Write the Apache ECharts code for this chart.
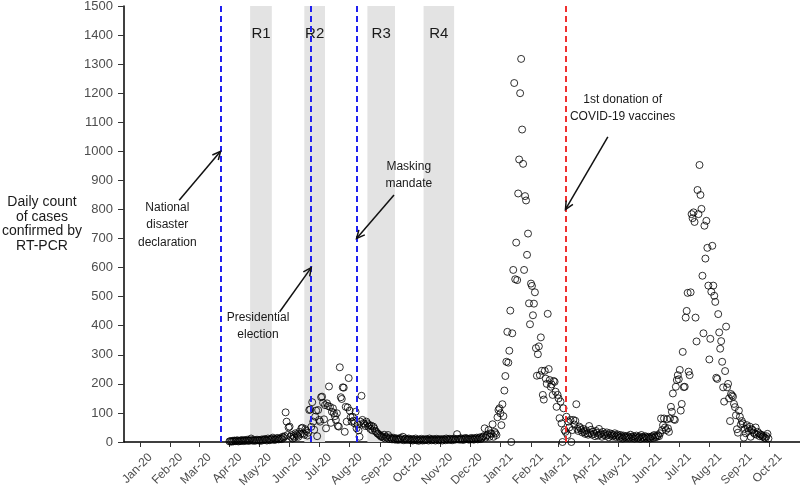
<!DOCTYPE html>
<html>
<head>
<meta charset="utf-8">
<script src="https://cdn.jsdelivr.net/npm/echarts@6/dist/echarts.min.js"></script>
<style>
html,body{margin:0;padding:0;background:#fff;}
#chart{width:800px;height:491px;}
</style>
</head>
<body>
<div id="chart"></div>
<script>
// ---- axis definition ----
const axisStart = '2019-12-16';
const axisEnd = '2021-11-01';
const monthNames = ['Jan','Feb','Mar','Apr','May','Jun','Jul','Aug','Sep','Oct','Nov','Dec'];
const yMin = 0, yMax = 1500, yInterval = 100;
const yAxisTitle = 'Daily count\nof cases\nconfirmed by\nRT-PCR';

// ---- daily confirmed cases, one array per month ----
const apr2020 = [2,3,1,4,2,5,3,4,6,2,3,5,4,7,3,5,6,4,8,5,4,6,12,5,7,4,6,5,8,6];
const may2020 = [5,7,4,9,6,8,10,7,5,12,8,6,9,11,15,7,10,8,12,14,9,11,13,10,18,15,20,102,70,24,50];
const jun2020 = [53,18,24,12,20,15,30,26,22,18,35,28,47,49,30,25,44,38,22,32,110,112,52,137,70,42,87,108,20,110];
const jul2020 = [76,70,154,156,135,78,127,47,133,124,191,121,66,104,116,99,89,76,99,55,53,257,154,148,188,187,35,121,70,119,220];
const aug2020 = [108,85,70,87,73,64,104,47,60,40,18,70,159,76,65,62,55,70,64,53,58,45,56,40,53,47,38,35,30,28,25];
const sep2020 = [22,18,20,15,25,12,18,14,24,10,16,12,9,15,11,8,13,10,7,12,9,14,8,18,6,10,12,7,9,12];
const oct2020 = [8,6,10,5,9,7,12,6,8,4,9,7,11,5,8,6,10,7,9,5,12,8,6,10,7,9,5,11,8,6,10];
const nov2020 = [7,9,5,10,8,6,12,9,7,11,8,10,6,9,12,8,10,27,9,11,8,13,10,7,12,9,14,11,10,8];
const dec2020 = [12,9,14,10,8,13,11,15,9,12,16,10,14,18,20,47,15,22,25,41,18,30,28,61,18,35,30,24,85,110,116];
const jan2021 = [99,58,130,89,177,227,276,379,273,314,452,0,374,592,1235,560,686,557,855,972,1200,1318,1075,957,592,846,831,644,717,477,405];
const feb2021 = [545,537,436,476,515,323,228,302,329,230,360,245,162,146,245,218,200,441,251,213,190,198,162,210,207,173,121,162];
const mar2021 = [150,82,139,64,0,116,41,35,87,24,70,50,76,0,41,76,60,73,130,45,38,53,48,41,33,45,35,28,40,30,25];
const apr2021 = [55,30,42,25,35,28,20,38,32,22,45,26,30,18,35,24,28,21,33,25,16,30,22,27,19,24,30,17,22,26];
const may2021 = [20,15,24,18,12,22,16,19,14,21,17,13,25,18,15,20,12,17,22,14,16,19,11,24,15,18,13,20,16,12,18];
const jun2021 = [15,12,18,20,14,24,16,22,18,24,20,30,81,41,58,81,50,41,78,47,35,81,121,104,167,78,76,190,213,230];
const jul2021 = [216,248,108,131,310,189,190,428,451,513,242,230,515,784,770,790,757,428,346,867,784,953,850,802,572,374,744,631,761,668,538];
const aug2021 = [284,355,517,675,538,503,482,221,217,440,377,321,347,276,188,139,244,397,188,200,150,72,165,160,156,131,120,92,44,32,108];
const sep2021 = [87,60,72,64,15,45,30,58,47,38,53,18,44,41,32,28,50,25,35,30,20,26,24,18,21,15,13,20,28,12];

const monthBlocks = [
  ['2020-04-01', apr2020], ['2020-05-01', may2020], ['2020-06-01', jun2020],
  ['2020-07-01', jul2020], ['2020-08-01', aug2020], ['2020-09-01', sep2020],
  ['2020-10-01', oct2020], ['2020-11-01', nov2020], ['2020-12-01', dec2020],
  ['2021-01-01', jan2021], ['2021-02-01', feb2021], ['2021-03-01', mar2021],
  ['2021-04-01', apr2021], ['2021-05-01', may2021], ['2021-06-01', jun2021],
  ['2021-07-01', jul2021], ['2021-08-01', aug2021], ['2021-09-01', sep2021]
];

// ---- shaded periods ----
const bandNames = ['R1','R2','R3','R4'];
const bandStarts = ['2020-04-22','2020-06-16','2020-08-19','2020-10-15'];
const bandEnds = ['2020-05-14','2020-07-07','2020-09-16','2020-11-15'];

// ---- event lines ----
const eventDates = ['2020-03-23','2020-06-23','2020-08-08','2021-03-08'];
const eventColors = ['#2020f0','#2020f0','#2020f0','#f03030'];

// ---- annotation arrows and texts ----
const arrowFromDates = ['2020-02-10','2020-05-22','2020-09-15','2021-04-20'];
const arrowFromValues = [832, 448, 850, 1050];
const arrowToDates = ['2020-03-23','2020-06-23','2020-08-08','2021-03-08'];
const arrowToValues = [1000, 600, 700, 800];
const noteTexts = ['National\ndisaster\ndeclaration','Presidential\nelection','Masking\nmandate','1st donation of\nCOVID-19 vaccines'];
const noteDates = ['2020-01-29','2020-04-30','2020-09-30','2021-05-05'];
const noteValues = [747, 398, 918, 1149];

// ---- build category axis (one category per day) ----
const DAY = 86400000;
function iso(t){ return new Date(t).toISOString().slice(0,10); }
const cats = [];
for (let t = Date.parse(axisStart + 'T00:00:00Z'); t <= Date.parse(axisEnd + 'T00:00:00Z'); t += DAY) cats.push(iso(t));
const catIndex = {};
cats.forEach((c,i)=>{ catIndex[c] = i; });

const points = [];
monthBlocks.forEach(([start, arr]) => {
  const t0 = Date.parse(start + 'T00:00:00Z');
  arr.forEach((v, i) => points.push([iso(t0 + i*DAY), v]));
});

function isMonthTick(idx, val){
  return idx < cats.length - 1 && typeof val === 'string' && val.slice(8,10) === '01';
}

const FONT = '"Liberation Sans", Arial, sans-serif';
const chart = echarts.init(document.getElementById('chart'), null, {renderer:'canvas'});

chart.setOption({
  animation: false,
  backgroundColor: '#fff',
  grid: { left: 124, right: 0, top: 6, bottom: 49, containLabel: false, outerBoundsMode: 'none' },
  xAxis: {
    type: 'category',
    data: cats,
    boundaryGap: false,
    axisLine: { show: true, onZero: false, lineStyle: { color: '#000', width: 1.5 } },
    axisTick: { show: true, inside: false, length: 5, interval: isMonthTick, lineStyle: { color: '#333', width: 1 } },
    axisLabel: {
      show: true, interval: isMonthTick, rotate: 45, margin: 24, padding: [0,-15,0,0],
      color: '#4d4d4d', fontSize: 12, fontFamily: FONT,
      formatter: v => monthNames[+v.slice(5,7)-1] + '-' + v.slice(2,4)
    },
    splitLine: { show: false }
  },
  yAxis: {
    type: 'value', min: yMin, max: yMax, interval: yInterval,
    axisLine: { show: true, lineStyle: { color: '#000', width: 1.5 } },
    axisTick: { show: true, length: 6, lineStyle: { color: '#333' } },
    axisLabel: { color: '#4d4d4d', fontSize: 13, fontFamily: FONT, margin: 11, formatter: v => String(v) },
    splitLine: { show: false }
  },
  graphic: [{
    type: 'text', x: 42, y: 224,
    style: { text: yAxisTitle, align: 'center', verticalAlign: 'middle', fontSize: 14, fontFamily: FONT, fill: '#1a1a1a', lineHeight: 14.7 }
  }],
  series: [
    {
      type: 'scatter', z: 1, data: [], silent: true,
      markArea: {
        silent: true,
        itemStyle: { color: '#e3e3e3' },
        label: { show: true, position: 'insideTop', distance: 20, fontSize: 15, fontFamily: FONT, color: '#1a1a1a' },
        data: bandNames.map((n,i)=>[{ name: n, xAxis: bandStarts[i] }, { xAxis: bandEnds[i] }])
      }
    },
    {
      type: 'scatter', z: 3, silent: true,
      symbol: 'circle', symbolSize: 7,
      itemStyle: { color: 'rgba(0,0,0,0)', borderColor: '#000', borderWidth: 1 },
      data: points,
      markLine: {
        silent: true, symbol: ['none','none'], label: { show: false },
        data: eventDates.map((d,i)=>({ xAxis: d, lineStyle: { color: eventColors[i], type: [6,4], width: 2 } }))
      }
    },
    {
      type: 'custom', z: 5, clip: false, silent: true,
      data: arrowToDates.map((d,i)=>[catIndex[d], arrowToValues[i]]),
      renderItem: function(params, api){
        const i = params.dataIndex;
        const p1 = api.coord([catIndex[arrowFromDates[i]], arrowFromValues[i]]);
        const p2 = api.coord([catIndex[arrowToDates[i]], arrowToValues[i]]);
        const ang = Math.atan2(p2[1]-p1[1], p2[0]-p1[0]);
        const L = 9, w = Math.PI/7;
        const h1 = [p2[0]-L*Math.cos(ang-w), p2[1]-L*Math.sin(ang-w)];
        const h2 = [p2[0]-L*Math.cos(ang+w), p2[1]-L*Math.sin(ang+w)];
        const pt = api.coord([catIndex[noteDates[i]], noteValues[i]]);
        return { type: 'group', children: [
          { type: 'line', shape: { x1: p1[0], y1: p1[1], x2: p2[0], y2: p2[1] }, style: { stroke: '#111', lineWidth: 1.5 } },
          { type: 'polyline', shape: { points: [h1, p2, h2] }, style: { stroke: '#111', lineWidth: 1.5, fill: null } },
          { type: 'text', x: pt[0], y: pt[1], style: { text: noteTexts[i], align: 'center', verticalAlign: 'middle', fontSize: 12, fontFamily: FONT, fill: '#1a1a1a', lineHeight: 17.5 } }
        ]};
      }
    }
  ]
});
</script>
</body>
</html>
